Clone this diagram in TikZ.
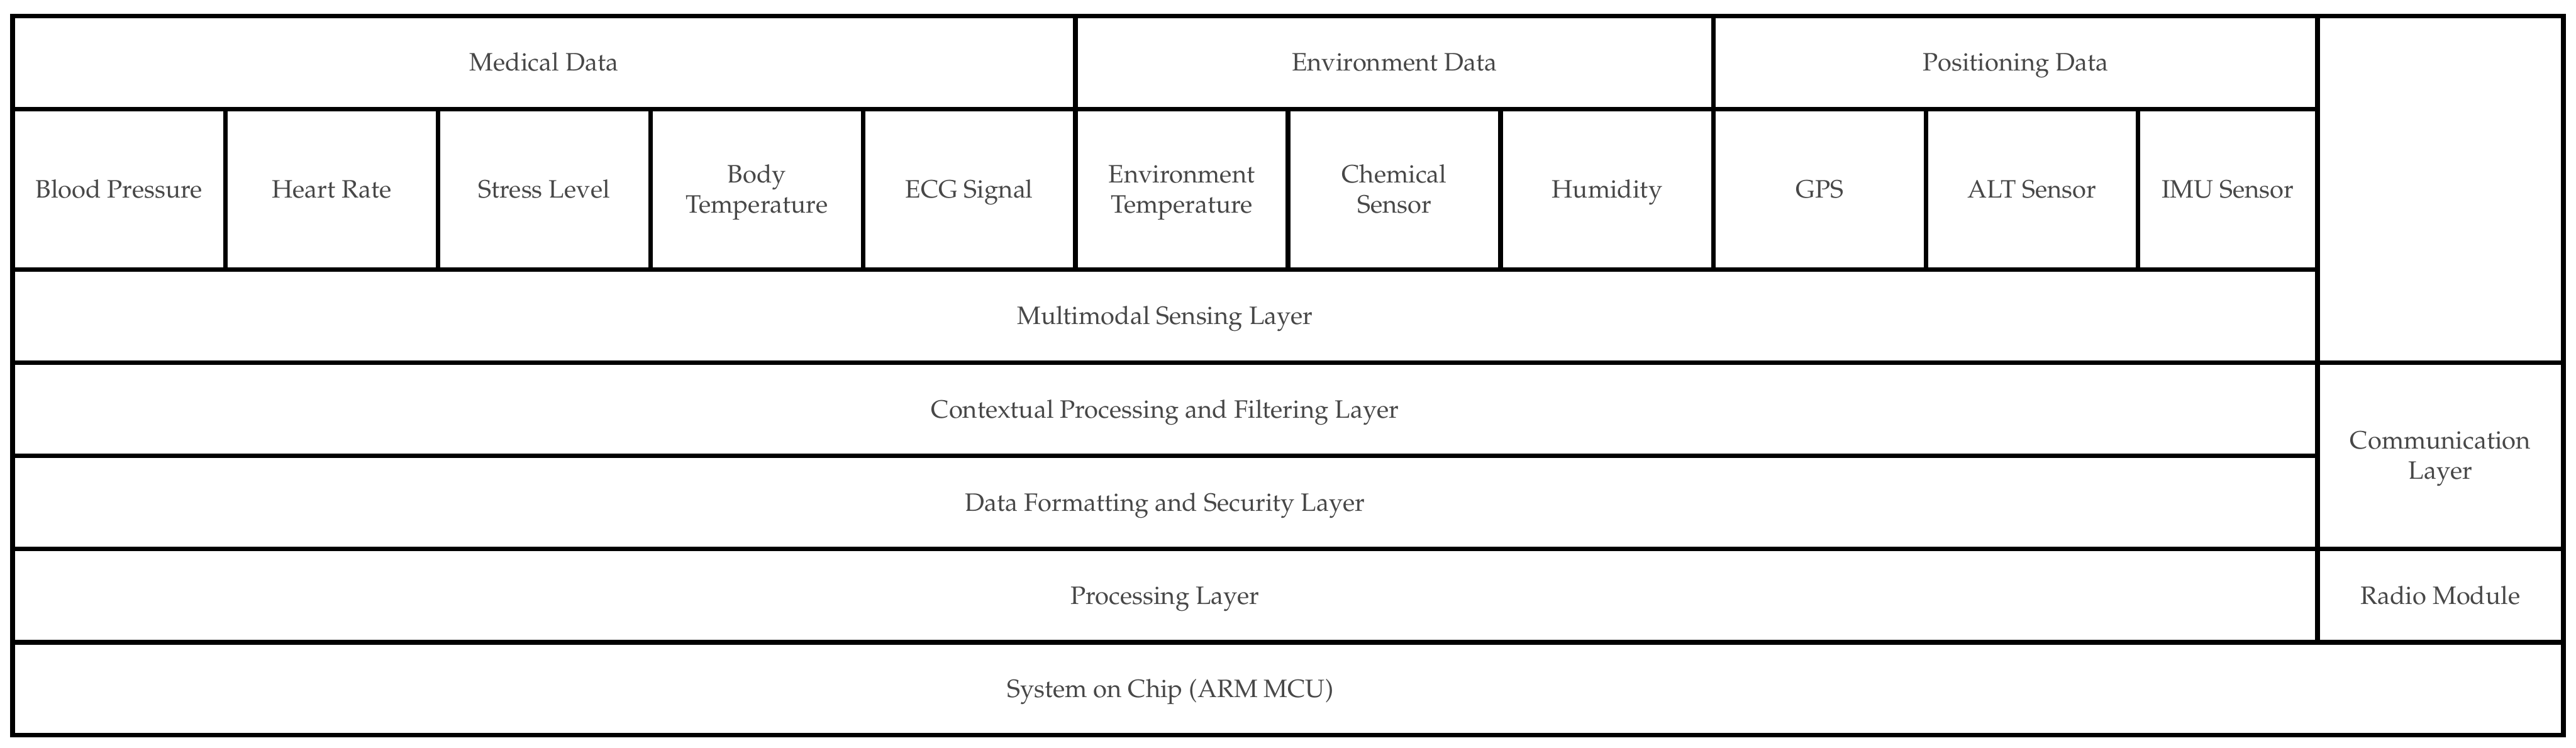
\documentclass[tikz,border=0pt]{standalone}
\usepackage[T1]{fontenc}
\usepackage{mathpazo}
\usepackage{tikz}
\definecolor{txtgray}{RGB}{71,71,71}
\newcommand{\twoline}[2]{\begin{tabular}[b]{@{}c@{}}#1\\#2\end{tabular}}
\tikzstyle{txt} = [inner sep=0pt, text=txtgray, font=\fontsize{18.7}{22.5}\selectfont, text height=17.5pt, text depth=5pt]
\tikzstyle{cell} = [txt, draw=black, line width=0.12cm, rectangle]
\tikzstyle{cell2} = [cell, text height=40pt, text depth=5pt]

\begin{document}
\begin{tikzpicture}
\useasboundingbox (0,0) rectangle (67.36,-19.54);

    % data groups
	\node[cell, minimum width=27.79cm, minimum height=2.43cm] (med) at (14.225,-1.635) {Medical Data};
	\node[cell, minimum width=16.69cm, minimum height=2.43cm] (env) at (36.465,-1.635) {Environment Data};
	\node[cell, minimum width=15.79cm, minimum height=2.43cm] (pos) at (52.705,-1.635) {Positioning Data};

    % sensors
	\node[cell, minimum width=5.56cm, minimum height=4.20cm] (bp) at (3.11,-4.95) {Blood Pressure};
	\node[cell, minimum width=5.56cm, minimum height=4.20cm] (hr) at (8.67,-4.95) {Heart Rate};
	\node[cell, minimum width=5.56cm, minimum height=4.20cm] (stress) at (14.23,-4.95) {Stress Level};
	\node[cell2, minimum width=5.56cm, minimum height=4.20cm] (bodyt) at (19.79,-4.95) {\twoline{Body}{Temperature}};
	\node[cell, minimum width=5.55cm, minimum height=4.20cm] (ecg) at (25.345,-4.95) {ECG Signal};
	\node[cell2, minimum width=5.56cm, minimum height=4.20cm] (envt) at (30.90,-4.95) {\twoline{Environment}{Temperature}};
	\node[cell2, minimum width=5.56cm, minimum height=4.20cm] (chem) at (36.46,-4.95) {\twoline{Chemical}{Sensor}};
	\node[cell, minimum width=5.57cm, minimum height=4.20cm] (hum) at (42.025,-4.95) {Humidity};
	\node[cell, minimum width=5.55cm, minimum height=4.20cm] (gps) at (47.585,-4.95) {GPS};
	\node[cell, minimum width=5.55cm, minimum height=4.20cm] (alt) at (53.135,-4.95) {ALT Sensor};
	\node[cell, minimum width=4.69cm, minimum height=4.20cm] (imu) at (58.255,-4.95) {IMU Sensor};

    % layers
	\node[cell, minimum width=60.27cm, minimum height=2.43cm] (sensing) at (30.465,-8.265) {Multimodal Sensing Layer};
	\node[cell, minimum width=60.27cm, minimum height=2.44cm] (context) at (30.465,-10.70) {Contextual Processing and Filtering Layer};
	\node[cell, minimum width=60.27cm, minimum height=2.43cm] (format) at (30.465,-13.135) {Data Formatting and Security Layer};
	\node[cell, minimum width=60.27cm, minimum height=2.44cm] (proc) at (30.465,-15.57) {Processing Layer};
	\node[cell, minimum width=66.70cm, minimum height=2.43cm] (soc) at (33.68,-18.005) {};
	\node[txt] (soctxt) at (30.60,-18.005) {System on Chip (ARM MCU)};

    % right column
	\node[cell, minimum width=6.43cm, minimum height=9.06cm] (blank) at (63.815,-4.95) {};
	\node[cell2, minimum width=6.43cm, minimum height=4.87cm] (comm) at (63.815,-11.915) {\twoline{Communication}{Layer}};
	\node[cell, minimum width=6.43cm, minimum height=2.44cm] (radio) at (63.815,-15.57) {Radio Module};
\end{tikzpicture}
\end{document}
